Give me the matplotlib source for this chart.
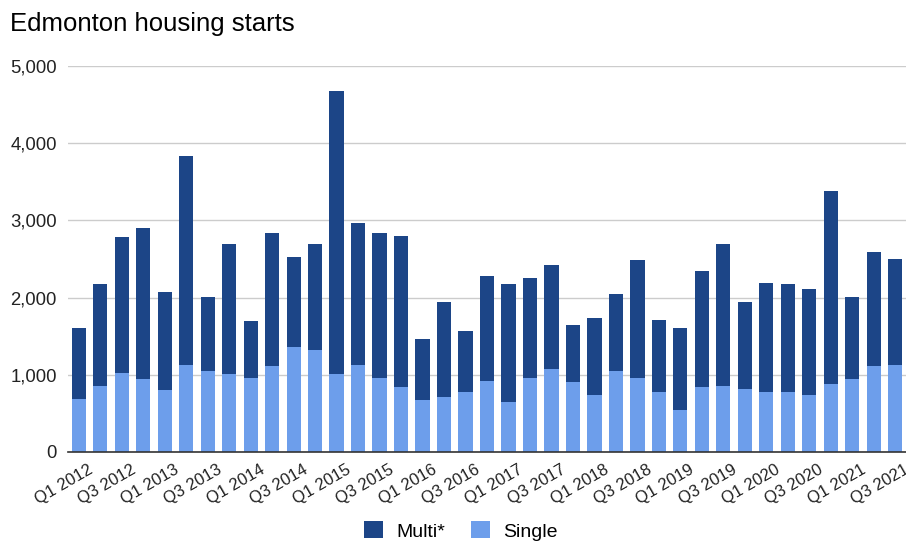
import matplotlib
matplotlib.use("Agg")
import matplotlib.pyplot as plt
import matplotlib.transforms as mtransforms
from matplotlib.ticker import FuncFormatter

plt.rcParams['font.family'] = ['Liberation Sans', 'DejaVu Sans']

# quarters Q1 2012 .. Q3 2021
trimestres = [f"Q{q} {a}" for a in range(2012, 2022) for q in range(1, 5)][:39]

single = [693, 861, 1026, 944, 797, 1130, 1048, 1009, 965, 1108, 1359, 1320, 1009,
          1130, 965, 840, 671, 714, 779, 922, 654, 965, 1069, 905, 736, 1048, 965,
          779, 545, 840, 861, 818, 779, 779, 736, 883, 944, 1108, 1130]
multi = [917, 1312, 1753, 1956, 1272, 2710, 956, 1684, 728, 1732, 1169, 1373, 3666,
         1835, 1875, 1957, 792, 1225, 788, 1355, 1519, 1290, 1351, 744, 1000, 1000, 1520,
         935, 1065, 1502, 1832, 1121, 1416, 1394, 1372, 2498, 1060, 1481, 1376]

cor_multi = "#1c4587"
cor_single = "#6d9eeb"

fig = plt.figure(figsize=(9.06, 5.41), dpi=100)
ax = fig.add_axes([68/906, 1 - 452/541, 838/906, (452 - 66)/541])

x = list(range(len(trimestres)))
ax.bar(x, single, width=0.66, color=cor_single, label="Single", zorder=3)
ax.bar(x, multi, width=0.66, bottom=single, color=cor_multi, label="Multi*", zorder=3)

ax.set_xlim(-0.5, len(trimestres) - 0.5)
ax.set_ylim(0, 5000)
ax.set_yticks(range(0, 5001, 1000))
ax.yaxis.set_major_formatter(FuncFormatter(lambda v, p: f"{int(v):,}"))
ax.grid(axis='y', color='#cccccc', linewidth=1, zorder=0)
ax.tick_params(axis='y', length=0, labelsize=13.3, pad=8, colors='#222222')

ax.set_xticks(x[::2])
ax.set_xticklabels(trimestres[::2], rotation=30, ha='right', rotation_mode='anchor',
                   fontsize=12, color='#222222')
ax.tick_params(axis='x', length=0, pad=7)
desloc = mtransforms.ScaledTranslation(9/100, 0, fig.dpi_scale_trans)
for rot in ax.get_xticklabels():
    rot.set_transform(rot.get_transform() + desloc)

for lado in ['top', 'right', 'left']:
    ax.spines[lado].set_visible(False)
ax.spines['bottom'].set_color('#333333')
ax.spines['bottom'].set_linewidth(1.2)
ax.spines['bottom'].set_zorder(4)

fig.text(10/906, 1 - 31.5/541, "Edmonton housing starts", fontsize=18.5, va='baseline',
         color='#000000')

h, l = ax.get_legend_handles_labels()
fig.legend(h[::-1], l[::-1], loc='center', bbox_to_anchor=(461/906, 1 - 531/541), ncol=2,
           frameon=False, fontsize=14, handlelength=0.95, handleheight=0.95,
           columnspacing=1.35, handletextpad=0.7)

fig.savefig("out.png", dpi=100)
